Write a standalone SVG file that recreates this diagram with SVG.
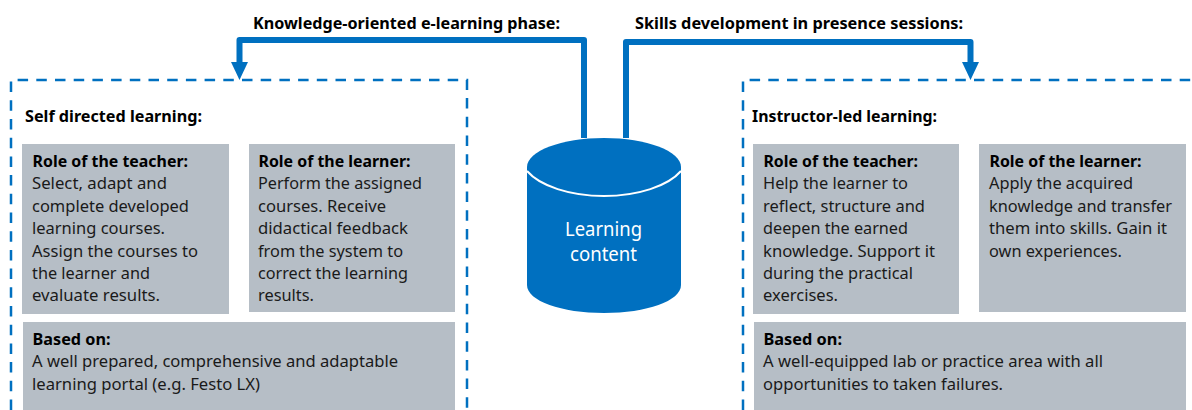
<svg xmlns="http://www.w3.org/2000/svg" width="1192" height="410" viewBox="0 0 1192 410">
<style>
text{font-family:"Noto Sans","Liberation Sans",sans-serif;font-size:16.8px;fill:#1a1a1a}
.b{font-weight:700;fill:#000}
.box{fill:#b6bec6}
.dash{fill:none;stroke:#0070c0;stroke-width:2.5;stroke-dasharray:10.5 8.2}
.conn{fill:none;stroke:#0070c0;stroke-width:6;stroke-linejoin:round;marker-end:url(#head)}
.cyl{fill:#0070c0}
.sep{fill:none;stroke:#fff;stroke-width:2}
.w{fill:#fff;font-size:20px}
</style>
<defs>
<marker id="head" markerUnits="userSpaceOnUse" markerWidth="18" markerHeight="18" refX="0" refY="9" orient="auto" viewBox="0 0 18 18">
<path d="M0 0.500L18 9L0 17.500Z" fill="#0070c0"/>
</marker>
</defs>
<g id="connectors">
<path class="conn" d="M584 138V40H239.500V62"/>
<path class="conn" d="M626 138V42H970.500V62"/>
</g>
<g id="title-left"><text class="b" x="253" y="28.500" textLength="307" lengthAdjust="spacingAndGlyphs">Knowledge-oriented e-learning phase:</text></g>
<g id="title-right"><text class="b" x="635" y="28.500" textLength="328" lengthAdjust="spacingAndGlyphs">Skills development in presence sessions:</text></g>
<g id="self-directed">
<path class="dash" d="M11 410V80H467V410"/>
<text class="b" x="25" y="121.500" textLength="177" lengthAdjust="spacingAndGlyphs">Self directed learning:</text>
</g>
<g id="self-teacher">
<rect class="box" x="22" y="144" width="207" height="170"/>
<text class="b" x="32.500" y="166.500" textLength="155.500" lengthAdjust="spacingAndGlyphs">Role of the teacher:</text>
<text x="32" y="188.500" textLength="135" lengthAdjust="spacingAndGlyphs">Select, adapt and</text>
<text x="32" y="211.500" textLength="157" lengthAdjust="spacingAndGlyphs">complete developed</text>
<text x="32" y="233.500" textLength="133" lengthAdjust="spacingAndGlyphs">learning courses.</text>
<text x="32" y="256.500" textLength="166" lengthAdjust="spacingAndGlyphs">Assign the courses to</text>
<text x="32" y="278.500" textLength="118" lengthAdjust="spacingAndGlyphs">the learner and</text>
<text x="32" y="300.500" textLength="128" lengthAdjust="spacingAndGlyphs">evaluate results.</text>
</g>
<g id="self-learner">
<rect class="box" x="249" y="144" width="206" height="168"/>
<text class="b" x="258.500" y="166.500" textLength="152" lengthAdjust="spacingAndGlyphs">Role of the learner:</text>
<text x="258" y="188.500" textLength="164" lengthAdjust="spacingAndGlyphs">Perform the assigned</text>
<text x="258" y="211.500" textLength="128" lengthAdjust="spacingAndGlyphs">courses. Receive</text>
<text x="258" y="233.500" textLength="150" lengthAdjust="spacingAndGlyphs">didactical feedback</text>
<text x="258" y="256.500" textLength="145" lengthAdjust="spacingAndGlyphs">from the system to</text>
<text x="258" y="278.500" textLength="150" lengthAdjust="spacingAndGlyphs">correct the learning</text>
<text x="258" y="300.500" textLength="56" lengthAdjust="spacingAndGlyphs">results.</text>
</g>
<g id="self-based">
<rect class="box" x="23" y="322" width="432" height="88"/>
<text class="b" x="32.500" y="344.500" textLength="78" lengthAdjust="spacingAndGlyphs">Based on:</text>
<text x="32" y="366.500" textLength="366" lengthAdjust="spacingAndGlyphs">A well prepared, comprehensive and adaptable</text>
<text x="32" y="389.500" textLength="228" lengthAdjust="spacingAndGlyphs">learning portal (e.g. Festo LX)</text>
</g>
<g id="learning-content">
<path class="cyl" d="M527 167C527 151 561.500 138 604 138S681 151 681 167V285C681 301 646.500 313 604 313S527 301 527 285Z"/>
<path class="sep" d="M527 171C540 186 570 196 604 196S668 186 681 171"/>
<text class="w" x="565" y="236" textLength="77" lengthAdjust="spacingAndGlyphs">Learning</text>
<text class="w" x="570" y="261" textLength="67" lengthAdjust="spacingAndGlyphs">content</text>
</g>
<g id="instructor-led">
<path class="dash" d="M743 410V80H1192"/>
<text class="b" x="752" y="121.500" textLength="185" lengthAdjust="spacingAndGlyphs">Instructor-led learning:</text>
</g>
<g id="instr-teacher">
<rect class="box" x="753" y="144" width="206" height="170"/>
<text class="b" x="763.500" y="166.500" textLength="154.500" lengthAdjust="spacingAndGlyphs">Role of the teacher:</text>
<text x="763" y="188.500" textLength="145" lengthAdjust="spacingAndGlyphs">Help the learner to</text>
<text x="763" y="211.500" textLength="162" lengthAdjust="spacingAndGlyphs">reflect, structure and</text>
<text x="763" y="233.500" textLength="145" lengthAdjust="spacingAndGlyphs">deepen the earned</text>
<text x="763" y="256.500" textLength="172" lengthAdjust="spacingAndGlyphs">knowledge. Support it</text>
<text x="763" y="278.500" textLength="150" lengthAdjust="spacingAndGlyphs">during the practical</text>
<text x="763" y="300.500" textLength="75" lengthAdjust="spacingAndGlyphs">exercises.</text>
</g>
<g id="instr-learner">
<rect class="box" x="979" y="144" width="207" height="168"/>
<text class="b" x="989.500" y="166.500" textLength="152" lengthAdjust="spacingAndGlyphs">Role of the learner:</text>
<text x="989" y="188.500" textLength="144" lengthAdjust="spacingAndGlyphs">Apply the acquired</text>
<text x="989" y="211.500" textLength="183" lengthAdjust="spacingAndGlyphs">knowledge and transfer</text>
<text x="989" y="233.500" textLength="178" lengthAdjust="spacingAndGlyphs">them into skills. Gain it</text>
<text x="989" y="256.500" textLength="133" lengthAdjust="spacingAndGlyphs">own experiences.</text>
</g>
<g id="instr-based">
<rect class="box" x="754" y="322" width="432" height="88"/>
<text class="b" x="763.500" y="344.500" textLength="78.500" lengthAdjust="spacingAndGlyphs">Based on:</text>
<text x="763" y="366.500" textLength="340" lengthAdjust="spacingAndGlyphs">A well-equipped lab or practice area with all</text>
<text x="763" y="389.500" textLength="240" lengthAdjust="spacingAndGlyphs">opportunities to taken failures.</text>
</g>
</svg>
